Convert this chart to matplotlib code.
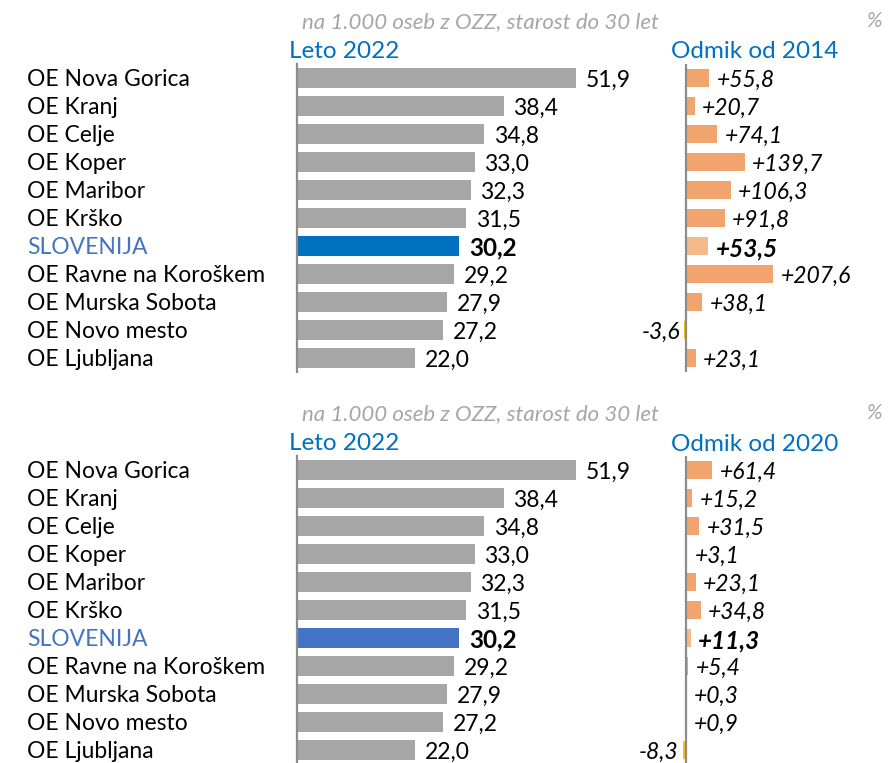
import matplotlib.pyplot as plt

plt.rcParams['font.family'] = ['Lato', 'DejaVu Sans']

regions = ['OE Nova Gorica', 'OE Kranj', 'OE Celje', 'OE Koper', 'OE Maribor',
           'OE Krško', 'SLOVENIJA', 'OE Ravne na Koroškem', 'OE Murska Sobota',
           'OE Novo mesto', 'OE Ljubljana']
rate_2022 = [51.9, 38.4, 34.8, 33.0, 32.3, 31.5, 30.2, 29.2, 27.9, 27.2, 22.0]
diff_2014 = [55.8, 20.7, 74.1, 139.7, 106.3, 91.8, 53.5, 207.6, 38.1, -3.6, 23.1]
diff_2020 = [61.4, 15.2, 31.5, 3.1, 23.1, 34.8, 11.3, 5.4, 0.3, 0.9, -8.3]

W, H = 888, 763
fig = plt.figure(figsize=(W / 100, H / 100), dpi=100)

GRAY = '#A6A6A6'
ORANGE = '#F2A46F'
ORANGE_LT = '#F5B98E'
YELLOW = '#FFC000'
AXIS = '#8C8C8C'


def px_axes(x0, y0, x1, y1):
    return fig.add_axes([x0 / W, 1 - y1 / H, (x1 - x0) / W, (y1 - y0) / H])


def fmt(v, sign=False):
    s = f'{v:+.1f}' if sign else f'{v:.1f}'
    return s.replace('.', ',')


def panel(top, diffs, slo_color, ref_year):
    n = len(regions)
    rows = list(range(n))
    y0 = top - 14
    y1 = y0 + 28 * n
    slo = regions.index('SLOVENIJA')

    # left: values 2022
    ax = px_axes(297, y0, 297 + 60 * 5.38, y1)
    cols = [slo_color if r == 'SLOVENIJA' else GRAY for r in regions]
    ax.barh(rows, rate_2022, height=0.72, color=cols)
    ax.set_xlim(0, 60)
    ax.set_ylim(n - 0.5, -0.5)
    for i, v in enumerate(rate_2022):
        bold = i == slo
        ax.text(v + 1.8, i + 0.08, fmt(v), va='center', ha='left',
                fontsize=17.5 if bold else 16.5,
                fontweight='bold' if bold else 'normal', color='black')
    for s in ['top', 'right', 'bottom']:
        ax.spines[s].set_visible(False)
    ax.spines['left'].set_color(AXIS)
    ax.spines['left'].set_linewidth(1.6)
    ax.set_xticks([])
    ax.set_yticks([])
    for i, r in enumerate(regions):
        ax.text(-270 / 5.38, i + 0.05, r, va='center', ha='left',
                fontsize=16.5, color='#4472C4' if r == 'SLOVENIJA' else 'black')

    # right: change vs reference year
    sc = 0.42
    axr = px_axes(686 - 60 * sc, y0, 686 + 400 * sc, y1)
    rcols = []
    for i, d in enumerate(diffs):
        if d < 0:
            rcols.append(YELLOW)
        elif i == slo:
            rcols.append(ORANGE_LT)
        else:
            rcols.append(ORANGE)
    axr.barh(rows, diffs, height=0.66, color=rcols)
    axr.set_xlim(-60, 400)
    axr.set_ylim(n - 0.5, -0.5)
    axr.axvline(0, color=AXIS, lw=1.6)
    for i, d in enumerate(diffs):
        bold = i == slo
        if d >= 0:
            axr.text(max(d, 0) + 18, i + 0.1, fmt(d, True), va='center', ha='left',
                     fontsize=17.5 if bold else 16.5, style='italic',
                     fontweight='bold' if bold else 'normal')
        else:
            axr.text(d - 10, i + 0.1, fmt(d), va='center', ha='right',
                     fontsize=16.5, style='italic')
    axr.axis('off')

    # headers
    fig.text(480 / W, 1 - (top - 56) / H, 'na 1.000 oseb z OZZ, starost do 30 let',
             ha='center', va='center', fontsize=16, style='italic', color=GRAY)
    fig.text(874 / W, 1 - (top - 57) / H, '%', ha='center', va='center',
             fontsize=15, style='italic', color=GRAY)
    fig.text(289 / W, 1 - (top - 27) / H, 'Leto 2022', ha='left', va='center',
             fontsize=17.5, color='#0070C0')
    fig.text(671 / W, 1 - (top - 26) / H, 'Odmik od ' + str(ref_year), ha='left',
             va='center', fontsize=17.5, color='#0070C0')


panel(78, diff_2014, '#0070C0', 2014)
panel(470, diff_2020, '#4472C4', 2020)

fig.savefig('out.png', dpi=100)
